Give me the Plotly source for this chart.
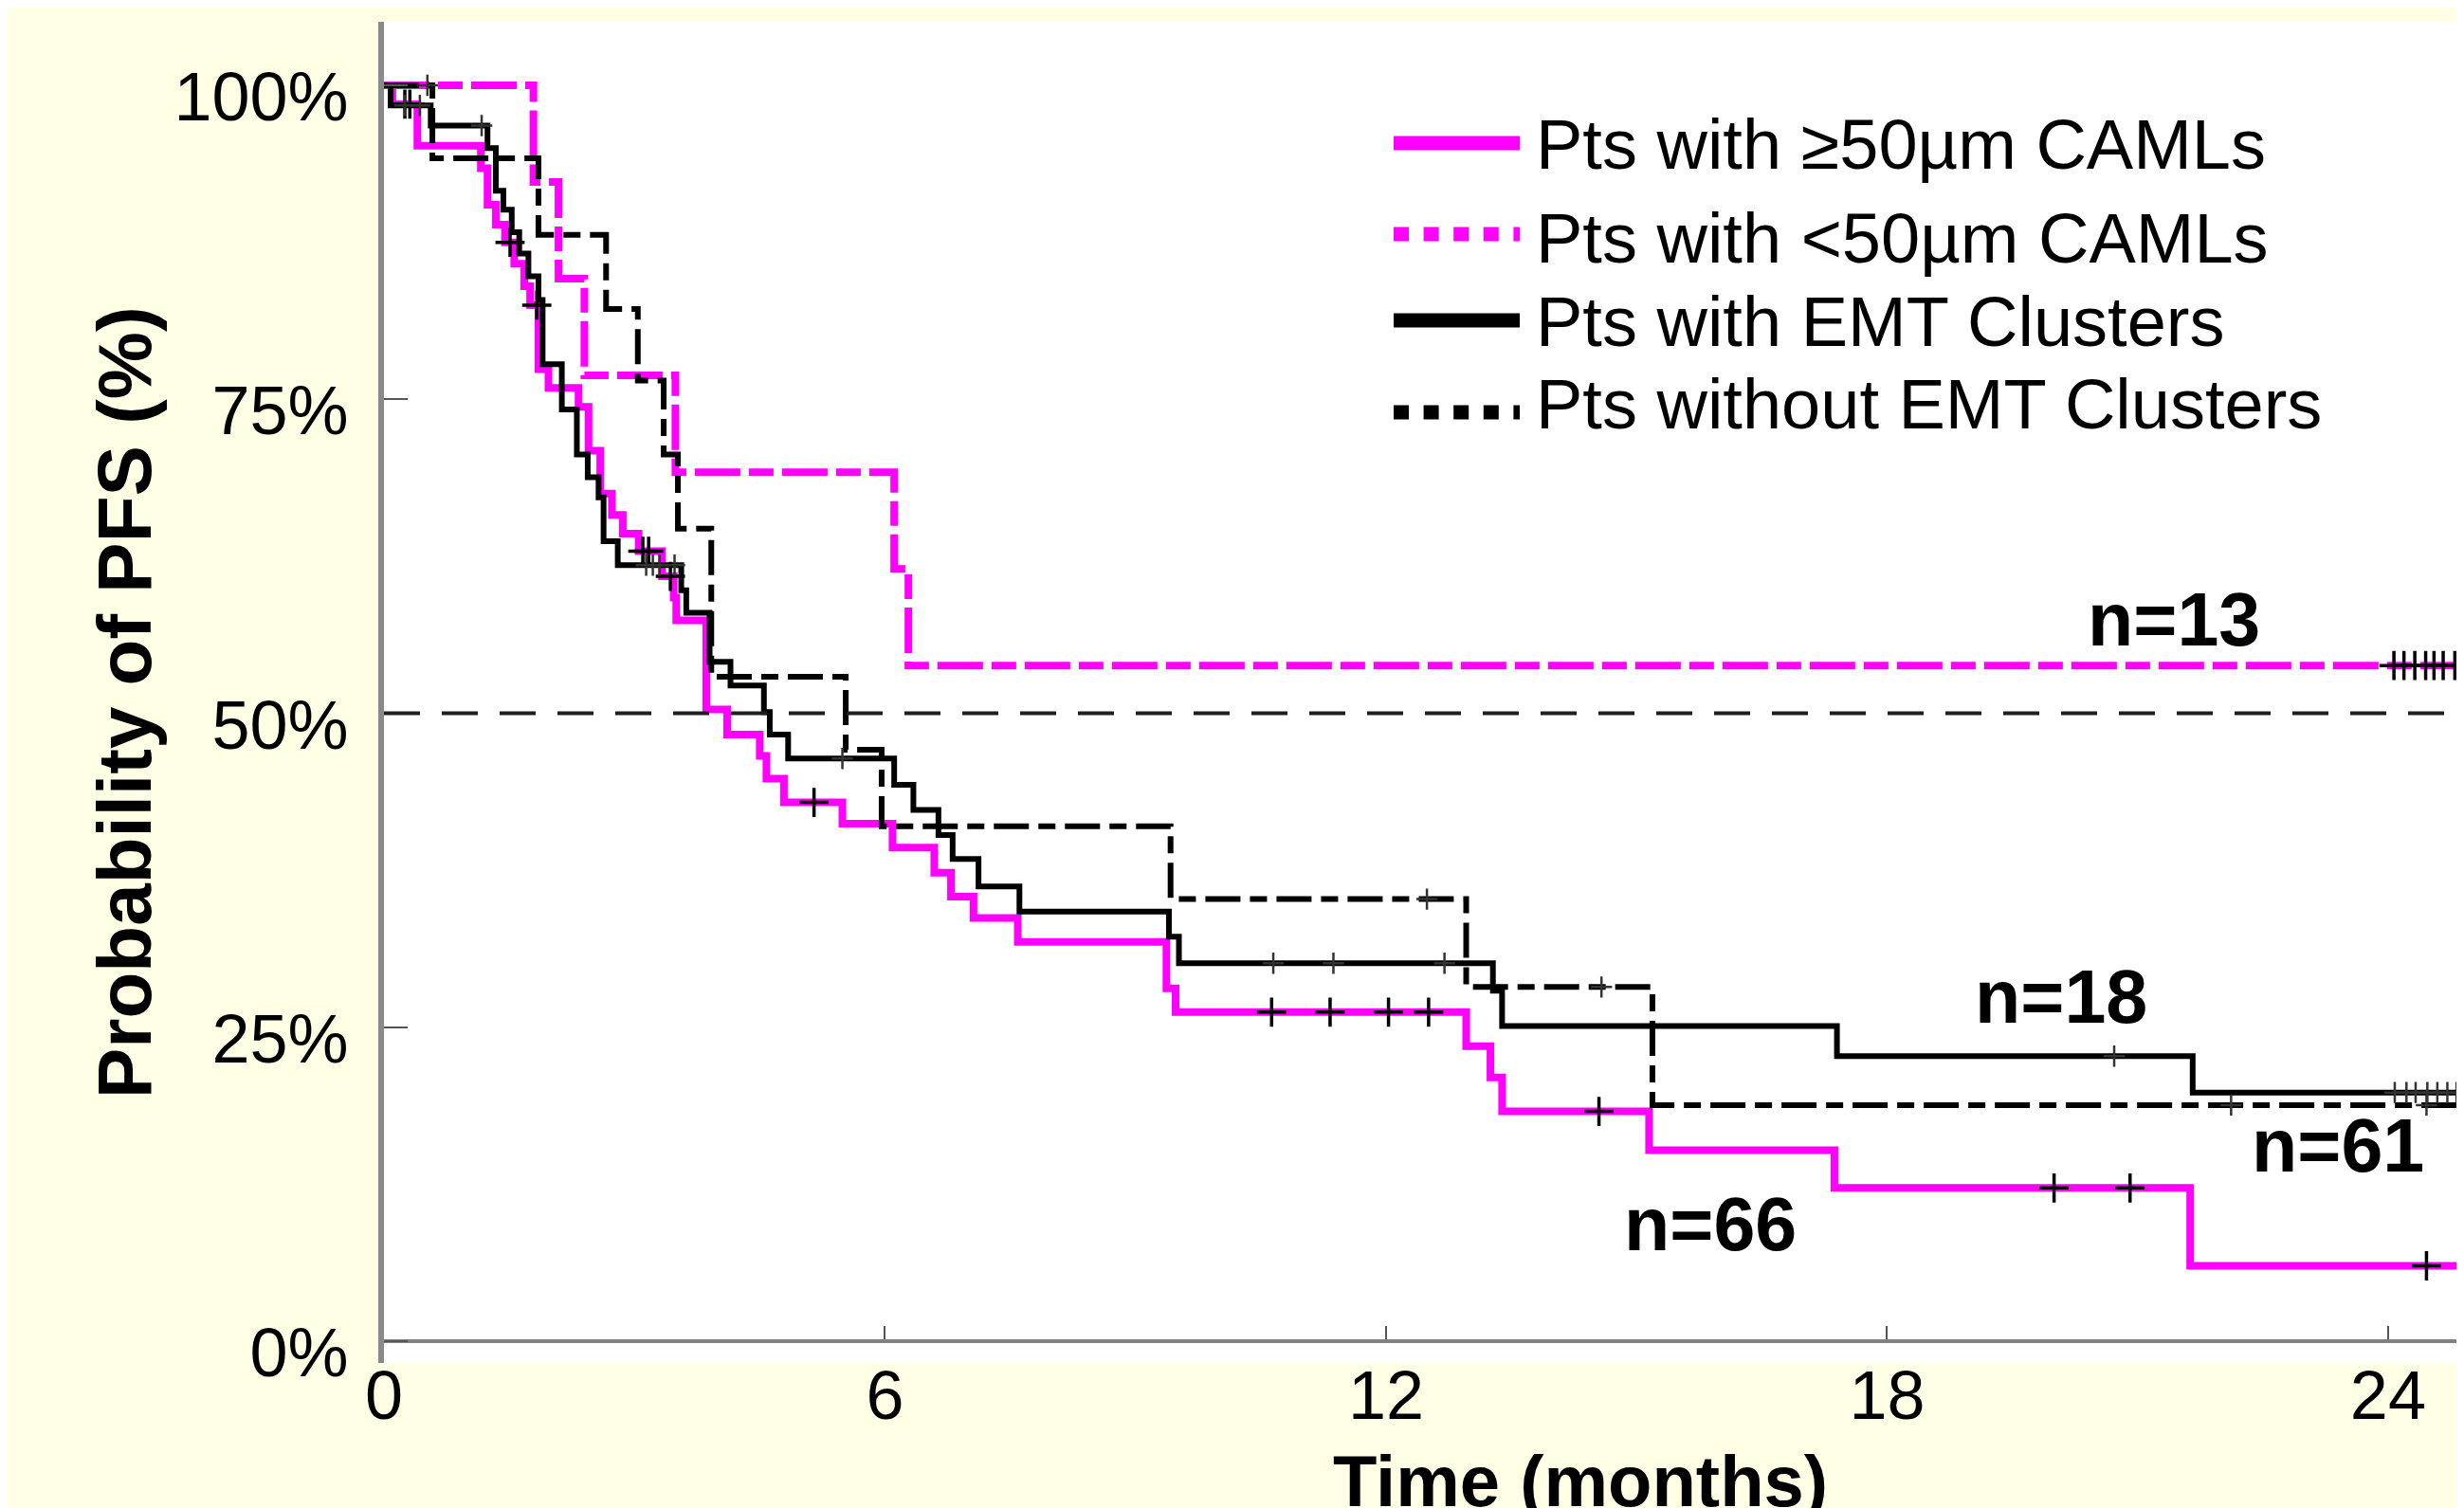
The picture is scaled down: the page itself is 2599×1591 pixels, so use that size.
import plotly.graph_objects as go

# ---------------- data ----------------
# Kaplan-Meier step curves: event times (months) and survival (%) after each step
ms_t = [0, 0.10, 0.40, 1.16, 1.24, 1.34, 1.45, 1.56, 1.68, 1.75, 1.85, 1.97, 2.33, 2.45, 2.59,
        2.73, 2.86, 3.05, 3.33, 3.47, 3.50, 3.86, 4.11, 4.50, 4.58, 4.79, 5.49, 6.09, 6.59,
        6.79, 7.06, 7.59, 9.37, 9.48, 12.96, 13.25, 13.39, 15.15, 17.37, 21.63]
ms_s = [100, 98.5, 95.2, 93.4, 90.5, 88.9, 87.5, 85.8, 84.0, 82.5, 77.4, 75.9, 74.4, 70.9, 67.5,
        65.8, 64.3, 62.9, 60.9, 59.2, 57.4, 50.3, 48.3, 46.6, 44.8, 42.9, 41.2, 39.3, 37.3,
        35.4, 33.7, 31.8, 28.1, 26.2, 23.5, 21.0, 18.3, 15.2, 12.2, 6.0]
ms_cens = [0.25, 0.31, 1.51, 1.83, 3.10, 3.17, 3.43, 5.15, 10.63, 11.33, 12.03, 12.51,
           14.55, 20.00, 20.91, 24.46]

md_t = [0, 1.79, 2.09, 2.40, 3.49, 6.11, 6.28]
md_s = [100, 92.3, 84.6, 76.9, 69.2, 61.5, 53.8]
md_cens = [24.07, 24.19, 24.32, 24.45, 24.55, 24.66, 24.80]

bs_t = [0, 0.08, 0.56, 1.24, 1.34, 1.43, 1.53, 1.62, 1.73, 1.85, 1.90, 2.13, 2.31, 2.44, 2.57,
        2.63, 2.80, 3.56, 3.62, 3.90, 4.15, 4.55, 4.62, 4.84, 6.11, 6.34, 6.64, 6.81, 7.12,
        7.61, 9.40, 9.52, 13.28, 13.39, 17.40, 21.66]
bs_s = [100, 98.4, 96.8, 95.0, 91.6, 90.1, 88.3, 86.6, 84.8, 82.9, 77.8, 74.2, 70.6, 68.8, 67.2,
        63.7, 61.8, 59.8, 58.0, 54.1, 52.2, 50.1, 48.3, 46.4, 44.3, 42.3, 40.3, 38.4, 36.2,
        34.2, 32.2, 30.1, 27.9, 25.1, 22.7, 19.8]
bs_cens = [0.25, 0.43, 1.17, 3.14, 3.22, 3.30, 3.48, 5.49, 10.65, 11.37, 12.70, 20.72,
           24.08, 24.22, 24.33, 24.47, 24.59, 24.71, 24.82]

bd_t = [0, 0.58, 1.85, 2.66, 3.04, 3.35, 3.52, 3.92, 5.53, 5.96, 9.42, 12.96, 15.19]
bd_s = [100, 94.2, 88.1, 82.2, 76.5, 70.6, 64.7, 52.9, 47.1, 41.0, 35.2, 28.2, 18.8]
bd_cens = [0.52, 12.49, 14.58, 22.12, 24.46]

t_end = 24.95

legend_labels = ["Pts with \u226550\u00b5m CAMLs", "Pts with <50\u00b5m CAMLs",
                 "Pts with EMT Clusters", "Pts without EMT Clusters"]
n_labels = ["n=13", "n=18", "n=61", "n=66"]
n_pos_x = [21.43, 20.08, 23.40, 15.88]
n_pos_y = [57.5, 27.4, 15.6, 9.3]

x_ticks = [0, 6, 12, 18, 24]
y_ticks = [0, 25, 50, 75, 100]
y_ticktext = ["0%", "25%", "50%", "75%", "100%"]
ref_level = 50

# ---------------- layout geometry ----------------
W, H = 2599, 1591
L, R, T, B = 397, 2599, 15, 1430
X_RANGE = [0, 25.0]
Y_RANGE = [-1.736, 105.06]

MAG = "#FF00FF"
BLK = "#000000"
FONT = "Liberation Sans, Arial, sans-serif"


def xp(X):
    return (X - L) / (R - L)


def yp(Y):
    return (B - Y) / (B - T)


def step_xy(t, s):
    return list(t) + [t_end], list(s) + [s[-1]]


def surv_at(t, s, tc):
    v = s[0]
    for ti, si in zip(t, s):
        if ti <= tc:
            v = si
    return v


fig = go.Figure()

curves = [
    (ms_t, ms_s, MAG, 8, "solid"),
    (md_t, md_s, MAG, 8, "48px,9px,26px,9px"),
    (bd_t, bd_s, BLK, 6, "37px,10px,18px,10px"),
    (bs_t, bs_s, BLK, 6, "solid"),
]
for t, s, col, w, dash in curves:
    xs, ys = step_xy(t, s)
    fig.add_trace(go.Scatter(x=xs, y=ys, mode="lines", line=dict(color=col, width=w, dash=dash, shape="hv"),
                             showlegend=False, hoverinfo="skip"))

# censor marks
for t, s, cens, size, lw, col in [
    (ms_t, ms_s, ms_cens, 22, 3.5, BLK),
    (md_t, md_s, md_cens, 22, 3.5, BLK),
    (bd_t, bd_s, bd_cens, 16, 2.5, "#333333"),
    (bs_t, bs_s, bs_cens, 16, 2.5, "#333333"),
]:
    fig.add_trace(go.Scatter(x=cens, y=[surv_at(t, s, c) for c in cens], mode="markers",
                             marker=dict(symbol="cross-thin", size=size, line=dict(width=lw, color=col)),
                             showlegend=False, hoverinfo="skip"))

shapes = []
# 50% reference line
shapes.append(dict(type="line", xref="x", yref="y", x0=X_RANGE[0], x1=X_RANGE[1], y0=ref_level, y1=ref_level,
                   line=dict(color="#1e1e1e", width=4, dash="38px,23px"), layer="above"))

# manual legend
leg_rows_y = [143, 239, 330, 427]
leg_text_y = [144, 244, 331, 419]
leg_styles = [(MAG, "solid"), (MAG, "16px,15.6px"), (BLK, "solid"), (BLK, "16px,15.6px")]
annotations = []
for ry, ty, (col, dash), lab in zip(leg_rows_y, leg_text_y, leg_styles, legend_labels):
    shapes.append(dict(type="line", xref="paper", yref="paper", x0=xp(1462), x1=xp(1595),
                       y0=yp(ry), y1=yp(ry), line=dict(color=col, width=15, dash=dash)))
    annotations.append(dict(xref="paper", yref="paper", x=xp(1610), y=yp(ty), xanchor="left",
                            yanchor="middle", text=lab, showarrow=False,
                            font=dict(family=FONT, size=74, color="black")))

for lab, nx, ny in zip(n_labels, n_pos_x, n_pos_y):
    annotations.append(dict(xref="x", yref="y", x=nx, y=ny, xanchor="center", yanchor="middle",
                            text="<b>%s</b>" % lab, showarrow=False,
                            font=dict(family=FONT, size=79, color="black")))

# axis titles
annotations.append(dict(xref="paper", yref="paper", x=xp(1659), y=yp(1554), xanchor="center",
                        yanchor="middle", text="<b>Time (months)</b>", showarrow=False,
                        font=dict(family=FONT, size=76, color="black")))
annotations.append(dict(xref="paper", yref="paper", x=xp(124), y=yp(733), xanchor="center",
                        yanchor="middle", text="<b>Probability of PFS (%)</b>", textangle=-90,
                        showarrow=False, font=dict(family=FONT, size=80, color="black")))

fig.update_layout(
    width=W, height=H,
    margin=dict(l=L, r=W - R, t=T, b=H - B, pad=0),
    paper_bgcolor="#FFFFE6",
    plot_bgcolor="#FFFFFF",
    shapes=shapes,
    annotations=annotations,
    showlegend=False,
    xaxis=dict(range=X_RANGE, tickvals=x_ticks, ticktext=[str(v) for v in x_ticks],
               showgrid=False, zeroline=False, showline=True, linecolor="#808080", linewidth=4,
               ticks="inside", ticklen=14, tickwidth=2, tickcolor="#555555",
               anchor="free", position=yp(1407),
               tickfont=dict(family=FONT, size=72, color="black"), ticklabelstandoff=-6),
    yaxis=dict(range=Y_RANGE, tickvals=y_ticks, ticktext=y_ticktext,
               showgrid=False, zeroline=False, showline=True, linecolor="#8a8a8a", linewidth=6,
               ticks="inside", ticklen=25, tickwidth=2, tickcolor="#555555",
               tickfont=dict(family=FONT, size=72, color="black"), ticklabelstandoff=17,
               ticklabelshift=12),
)

fig.write_html("out.html")
